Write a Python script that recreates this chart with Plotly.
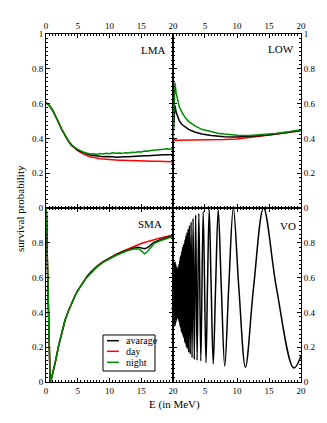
import plotly.graph_objects as go

# ---------------- data ----------------
# LMA (top-left)
lma_E = [0, 0.5, 1, 1.5, 2, 2.5, 3, 3.5, 4, 4.5, 5, 5.5, 6, 6.5, 7, 7.5, 8, 8.5, 9, 9.5,
         10, 10.5, 11, 11.5, 12, 12.5, 13, 13.5, 14, 14.5, 15, 15.5, 16, 16.5, 17, 17.5,
         18, 18.5, 19, 19.5, 20]
lma_day = [0.605, 0.59, 0.565, 0.53, 0.49, 0.45, 0.415, 0.385, 0.36, 0.343,
           0.33, 0.318, 0.308, 0.30, 0.294, 0.289, 0.285, 0.283, 0.281, 0.279,
           0.278, 0.277, 0.276, 0.275, 0.274, 0.273, 0.272, 0.272, 0.271, 0.271,
           0.270, 0.270, 0.269, 0.269, 0.268, 0.268, 0.268, 0.267, 0.267, 0.266, 0.266]
lma_avg = [0.605, 0.59, 0.565, 0.53, 0.49, 0.45, 0.415, 0.386, 0.362, 0.345,
           0.333, 0.324, 0.316, 0.31, 0.305, 0.302, 0.299, 0.298, 0.295, 0.296,
           0.293, 0.294, 0.292, 0.294, 0.293, 0.295, 0.294, 0.296, 0.296, 0.298,
           0.298, 0.300, 0.300, 0.302, 0.302, 0.304, 0.304, 0.306, 0.306, 0.308, 0.308]
lma_night = [0.605, 0.59, 0.565, 0.53, 0.49, 0.45, 0.416, 0.388, 0.365, 0.348,
             0.337, 0.328, 0.32, 0.315, 0.31, 0.312, 0.308, 0.313, 0.31, 0.315,
             0.312, 0.317, 0.314, 0.316, 0.314, 0.318, 0.316, 0.32, 0.319, 0.323,
             0.322, 0.327, 0.326, 0.33, 0.331, 0.334, 0.333, 0.337, 0.34, 0.338, 0.336]

# LOW (top-right)
low_E = [0, 0.3, 0.5, 0.7, 1.0, 1.4, 1.9, 2.5, 3.5, 4.5, 6, 7, 8, 10, 12, 14, 16, 18, 20]
low_day = [0.40, 0.39, 0.39, 0.39, 0.39, 0.39, 0.39, 0.39, 0.39, 0.39,
           0.39, 0.391, 0.393, 0.397, 0.405, 0.414, 0.424, 0.434, 0.445]
low_avg = [0.40, 0.59, 0.55, 0.525, 0.50, 0.48, 0.465, 0.45, 0.435, 0.425,
           0.417, 0.413, 0.41, 0.408, 0.411, 0.417, 0.425, 0.435, 0.445]
low_night = [0.40, 0.72, 0.66, 0.62, 0.58, 0.55, 0.52, 0.495, 0.47, 0.452,
             0.437, 0.43, 0.425, 0.418, 0.417, 0.421, 0.428, 0.438, 0.45]

# SMA (bottom-left)
sma_E = [0, 0.1, 0.2, 0.35, 0.5, 0.65, 0.8, 1.0, 1.5, 2, 2.5, 3, 3.5, 4, 4.5, 5, 5.5,
         6, 6.5, 7, 8, 9, 10, 11, 12, 13, 14, 14.5, 15, 15.5, 16, 16.5, 17, 18, 19, 20]
sma_day = [1.0, 0.95, 0.72, 0.42, 0.13, 0.0, 0.01, 0.04, 0.12, 0.21, 0.29, 0.355, 0.405,
           0.45, 0.49, 0.525, 0.555, 0.585, 0.61, 0.63, 0.665, 0.692, 0.714, 0.733,
           0.75, 0.766, 0.783, 0.79, 0.796, 0.802, 0.808, 0.814, 0.819, 0.828, 0.836, 0.845]
sma_avg = [1.0, 0.95, 0.72, 0.42, 0.13, 0.0, 0.01, 0.04, 0.12, 0.21, 0.29, 0.355, 0.405,
           0.45, 0.49, 0.525, 0.555, 0.584, 0.607, 0.627, 0.663, 0.69, 0.712, 0.73,
           0.747, 0.761, 0.772, 0.774, 0.772, 0.766, 0.772, 0.79, 0.803, 0.818, 0.829, 0.84]
sma_night = [1.0, 0.95, 0.72, 0.42, 0.13, 0.0, 0.01, 0.04, 0.12, 0.21, 0.29, 0.355, 0.405,
             0.45, 0.49, 0.525, 0.555, 0.582, 0.604, 0.624, 0.66, 0.687, 0.709, 0.727,
             0.743, 0.757, 0.766, 0.765, 0.755, 0.737, 0.75, 0.775, 0.795, 0.812, 0.825, 0.837]

# VO (bottom-right): peaks / troughs
vo_E = [0.00, 0.03, 0.06, 0.09, 0.12, 0.15, 0.18, 0.21, 0.24, 0.27, 0.30, 0.33, 0.36,
        0.40, 0.44, 0.48, 0.52, 0.56, 0.60, 0.64, 0.68, 0.72, 0.76, 0.80, 0.84, 0.88,
        0.92, 0.96, 1.00, 1.05, 1.10, 1.15, 1.20, 1.25, 1.30, 1.36, 1.42,
        1.49, 1.53, 1.57, 1.62, 1.66, 1.72, 1.77, 1.83, 1.89, 1.95, 2.02, 2.10, 2.18,
        2.26, 2.36, 2.46, 2.57, 2.70, 2.83, 2.98, 3.14, 3.33, 3.54, 3.77, 4.04, 4.35,
        4.72, 5.15, 5.39, 5.66, 5.96, 6.29, 6.66, 7.07, 7.55, 8.09, 8.71, 9.43, 10.29,
        11.32, 12.58, 14.15, 16.17, 18.87, 20.0]
vo_P = [0.50, 0.62, 0.40, 0.64, 0.37, 0.66, 0.35, 0.68, 0.33, 0.69, 0.32, 0.69, 0.33,
        0.68, 0.34, 0.67, 0.35, 0.66, 0.36, 0.65, 0.37, 0.65, 0.37, 0.66, 0.36, 0.67,
        0.35, 0.68, 0.34, 0.70, 0.32, 0.72, 0.31, 0.73, 0.29, 0.75, 0.28,
        0.77, 0.27, 0.78, 0.26, 0.79, 0.25, 0.80, 0.23, 0.82, 0.22, 0.84, 0.20, 0.86,
        0.19, 0.88, 0.17, 0.90, 0.16, 0.92, 0.14, 0.94, 0.13, 0.96, 0.125, 0.97, 0.12,
        0.98, 0.11, 0.55, 0.99, 0.55, 0.105, 0.55, 0.99, 0.545, 0.09, 0.545, 1.0, 0.54,
        0.085, 0.54, 1.0, 0.54, 0.08, 0.15]

series_names = ["avarage", "day", "night"]
RED = "#ff0000"
GREEN = "rgb(0,139,0)"
BLACK = "#000000"
series_colors = [BLACK, RED, GREEN]

FONT = "Liberation Serif"

fig = go.Figure()


def add(x, y, color, xa, ya, width=1.5, shape="linear"):
    fig.add_trace(go.Scatter(x=x, y=y, mode="lines", xaxis=xa, yaxis=ya,
                             line=dict(color=color, width=width, shape=shape),
                             showlegend=False, hoverinfo="skip"))


add(lma_E, lma_day, RED, "x", "y")
add(lma_E, lma_avg, BLACK, "x", "y")
add(lma_E, lma_night, GREEN, "x", "y")

add(low_E, low_day, RED, "x2", "y2")
add(low_E, low_avg, BLACK, "x2", "y2")
add(low_E, low_night, GREEN, "x2", "y2")

add(sma_E, sma_day, RED, "x3", "y3")
add(sma_E, sma_avg, BLACK, "x3", "y3")
add(sma_E, sma_night, GREEN, "x3", "y3")

add(vo_E, vo_P, BLACK, "x4", "y4", width=1.5, shape="spline")


def common(dtick, minor_dtick, alias):
    d = dict(showline=True, linecolor="black", linewidth=1, mirror="ticks",
             ticks="inside", ticklen=4, tickwidth=1, tickcolor="black",
             tickmode="linear", tick0=0, dtick=dtick,
             minor=dict(ticks="inside", ticklen=2, tickwidth=1, tickcolor="black",
                        tickmode="linear", tick0=0, dtick=minor_dtick, showgrid=False),
             showgrid=False, zeroline=False, fixedrange=True,
             tickfont=dict(family=FONT, size=9, color="black"))
    if alias:
        d["labelalias"] = alias
    return d


def xax(domain, anchor, side, alias=None):
    d = common(5, 0.5, alias)
    d.update(domain=domain, anchor=anchor, side=side, range=[0, 20])
    return d


def yax(domain, anchor, side, alias=None):
    d = common(0.2, 0.025, alias)
    d.update(domain=domain, anchor=anchor, side=side, range=[0, 1])
    return d


XL = [0, 0.498]
XR = [0.498, 1]
YT = [0.5, 1]
YB = [0, 0.5]

annotations = [
    dict(text="LMA", x=17.0, y=0.91, xref="x", yref="y", showarrow=False,
         font=dict(family=FONT, size=11, color="black")),
    dict(text="LOW", x=16.8, y=0.915, xref="x2", yref="y2", showarrow=False,
         font=dict(family=FONT, size=11, color="black")),
    dict(text="SMA", x=16.3, y=0.91, xref="x3", yref="y3", showarrow=False,
         font=dict(family=FONT, size=11, color="black")),
    dict(text="VO", x=17.9, y=0.895, xref="x4", yref="y4", showarrow=False,
         font=dict(family=FONT, size=11, color="black")),
    dict(text="survival probability", x=-0.102, y=0.5, xref="paper", yref="paper",
         textangle=-90, showarrow=False, xanchor="center", yanchor="middle",
         font=dict(family=FONT, size=11, color="black")),
    dict(text="E (in MeV)", x=0.503, y=-0.066, xref="paper", yref="paper",
         showarrow=False, xanchor="center", yanchor="middle",
         font=dict(family=FONT, size=11, color="black")),
]

# hand-drawn legend (box, line samples, labels) in the SMA panel
shapes = [dict(type="rect", xref="paper", yref="paper", x0=0.2235, x1=0.4275,
               y0=0.0316, y1=0.1351, line=dict(color="black", width=1),
               fillcolor="white", layer="above")]
leg_y = [0.1187, 0.0882, 0.0566]
for name, col, yy in zip(series_names, series_colors, leg_y):
    shapes.append(dict(type="line", xref="paper", yref="paper", x0=0.239, x1=0.286,
                       y0=yy, y1=yy, line=dict(color=col, width=1.5), layer="above"))
    annotations.append(dict(text=name, x=0.306, y=yy, xref="paper", yref="paper",
                            showarrow=False, xanchor="left", yanchor="middle",
                            font=dict(family=FONT, size=10, color="black")))

fig.update_layout(
    width=327, height=423,
    margin=dict(l=38, r=34, t=26, b=49, pad=0),
    paper_bgcolor="white", plot_bgcolor="white",
    showlegend=False,
    xaxis=xax(XL, "y", "top"),
    yaxis=yax(YT, "x", "left"),
    xaxis2=xax(XR, "y2", "top", {"0": " "}),
    yaxis2=yax(YT, "x2", "right"),
    xaxis3=xax(XL, "y3", "bottom"),
    yaxis3=yax(YB, "x3", "left", {"1": " "}),
    xaxis4=xax(XR, "y4", "bottom", {"0": " "}),
    yaxis4=yax(YB, "x4", "right", {"1": " "}),
    annotations=annotations,
    shapes=shapes,
)

fig.write_html("out.html")
